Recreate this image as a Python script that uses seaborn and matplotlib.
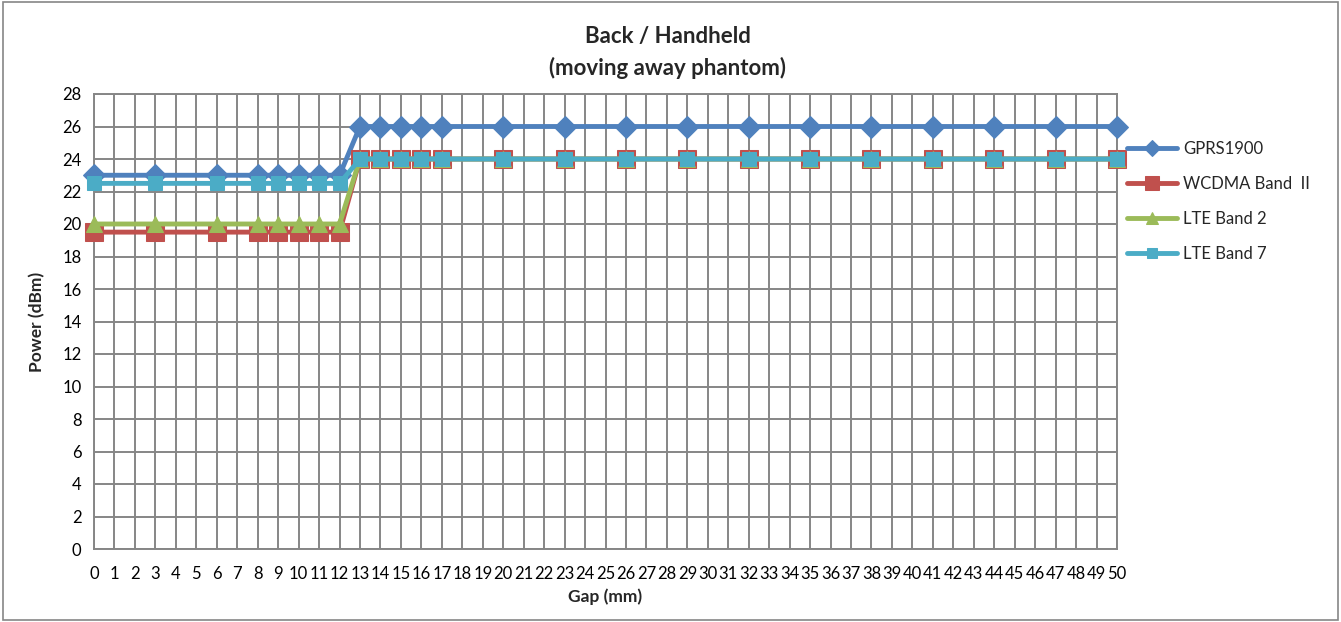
import numpy as np
import pandas as pd
import matplotlib
matplotlib.use("Agg")
import matplotlib.pyplot as plt
import seaborn as sns

# gap positions measured (mm)
gaps = [0, 3, 6, 8, 9, 10, 11, 12, 13, 14, 15, 16, 17,
        20, 23, 26, 29, 32, 35, 38, 41, 44, 47, 50]
gprs1900 = [23] * 8 + [26] * 16
wcdma_b2 = [19.5] * 8 + [24] * 16
lte_b2 = [20] * 8 + [24] * 16
lte_b7 = [22.5] * 8 + [24] * 16

series_names = ["GPRS1900", "WCDMA Band  II", "LTE Band 2", "LTE Band 7"]
colors = ["#4F81BD", "#C0504D", "#9BBB59", "#4BACC6"]
markers = ["D", "s", "^", "s"]
msizes = [11.5, 12.5, 12, 10.5]

df = pd.concat([
    pd.DataFrame({"gap": gaps, "power": vals, "band": name})
    for name, vals in zip(series_names, [gprs1900, wcdma_b2, lte_b2, lte_b7])
])

sns.set_style("white")
plt.rcParams["font.family"] = ["Lato", "DejaVu Sans"]

fig = plt.figure(figsize=(13.41, 6.22), dpi=100)
ax = fig.add_axes([94 / 1341, 1 - 549 / 622, (1117 - 94) / 1341, (549 - 94) / 622])

for name, col, mk, ms in zip(series_names, colors, markers, msizes):
    sns.lineplot(
        data=df[df["band"] == name], x="gap", y="power",
        ax=ax, color=col, marker=mk, markersize=ms,
        markeredgecolor=col, linewidth=3.5, label=name,
        clip_on=False, zorder=3,
    )

ax.set_xlim(0, 50)
ax.set_ylim(0, 28)
ax.set_xticks(np.arange(0, 51, 1))
ax.set_yticks(np.arange(0, 29, 2))
ax.set_yticks(np.arange(1, 28, 2), minor=True)
ax.tick_params(axis="both", labelsize=12, colors="#000000", length=5,
               width=1.2, color="#868686", direction="out", pad=4)
ax.tick_params(axis="y", which="minor", length=4, width=1.2,
               color="#868686", direction="in")
ax.tick_params(axis="x", pad=7)
ax.grid(True, color="#868686", linewidth=1.4)
for sp in ax.spines.values():
    sp.set_color("#868686")
    sp.set_linewidth(1.4)
ax.set_axisbelow(True)

ax.set_xlabel("Gap (mm)", fontsize=12.5, fontweight="bold", labelpad=5)
ax.set_ylabel("Power (dBm)", fontsize=12.5, fontweight="bold", labelpad=12)

fig.suptitle("Back / Handheld\n(moving away phantom)", x=0.498, y=1 - 26 / 622,
             fontsize=16, fontweight="bold", linespacing=1.55)

leg = ax.legend(loc="upper left", bbox_to_anchor=(1120 / 1341, 1 - 134 / 622),
                bbox_transform=fig.transFigure, frameon=False,
                fontsize=12, handlelength=3.0, labelspacing=1.15,
                borderaxespad=0.0, handletextpad=0.4, markerscale=0.75)

# outer chart border
fig.patches.append(plt.Rectangle((0.002, 0.003), 0.996, 0.994,
                                 transform=fig.transFigure, fill=False,
                                 edgecolor="#868686", linewidth=1.2))

fig.savefig("out.png", dpi=100, facecolor="white")
